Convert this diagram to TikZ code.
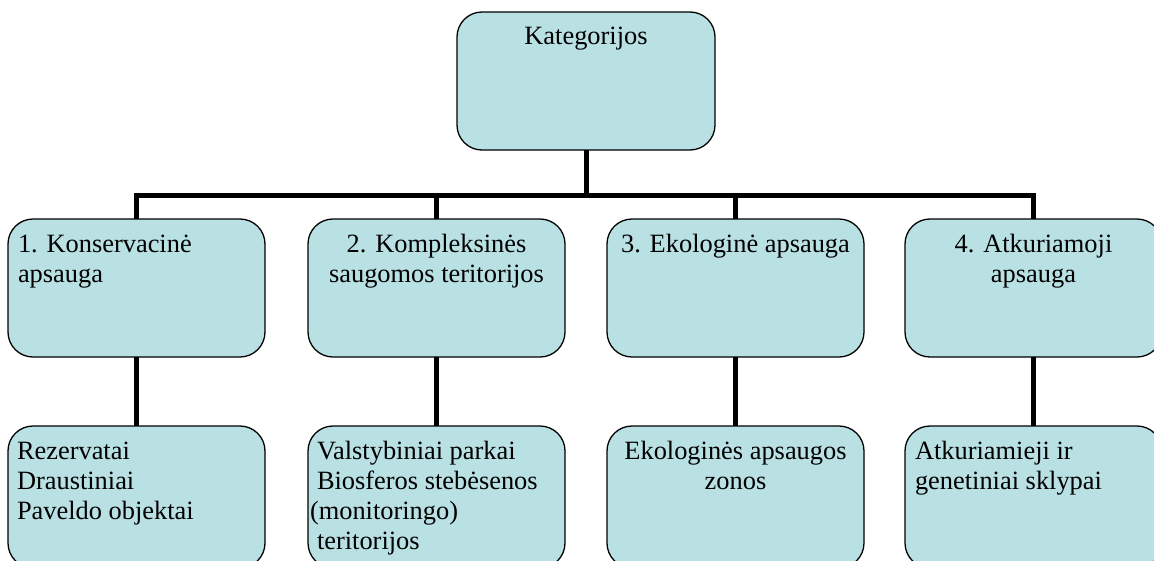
\documentclass[tikz,border=0pt]{standalone}
\usepackage{fontspec}
\setmainfont{Liberation Serif}
\definecolor{boxfill}{RGB}{185,224,227}
\begin{document}
\begin{tikzpicture}[x=1pt,y=-1pt,
  cbox/.style={draw=black,line width=1.3pt,fill=boxfill,rounded corners=25pt,
    minimum width=257pt,inner sep=0pt,outer sep=0pt},
  upbox/.style={cbox,minimum height=138pt},
  lowbox/.style={cbox,minimum height=142pt},
  txt/.style={inner sep=0pt,outer sep=0pt,font=\fontsize{26.4pt}{30pt}\selectfont},
  txtl/.style={txt,align=left,anchor=base west},
  txtc/.style={txt,align=center,anchor=base},
  conn/.style={line width=5pt,draw=black}]
\useasboundingbox (0,0) rectangle (1154,560);
\clip (0,0) rectangle (1154,560);
\fill[white] (0,0) rectangle (1154,560);

\node[upbox,minimum width=258pt] (top) at (586,81) {};
\node[upbox] (b1) at (136.5,288) {};
\node[upbox] (b2) at (436.5,288) {};
\node[upbox] (b3) at (735.5,288) {};
\node[upbox] (b4) at (1033.5,288) {};
\node[lowbox] (c1) at (136.5,497) {};
\node[lowbox] (c2) at (436.5,497) {};
\node[lowbox] (c3) at (735.5,497) {};
\node[lowbox] (c4) at (1033.5,497) {};

\coordinate (bar) at (0,195);
\draw[conn] (top.south) -- (top.south |- bar);
\draw[conn] (b1.north) -- (b1.north |- bar) -- (b4.north |- bar) -- (b4.north);
\draw[conn] (b2.north) -- (b2.north |- bar);
\draw[conn] (b3.north) -- (b3.north |- bar);
\draw[conn] (b1.south) -- (c1.north);
\draw[conn] (b2.south) -- (c2.north);
\draw[conn] (b3.south) -- (c3.north);
\draw[conn] (b4.south) -- (c4.north);

\node[txtc] (ttop) at ([yshift=-32pt]top.north) {Kategorijos};
\node[txtl] (t1) at ([xshift=10pt,yshift=-63pt]b1.north west) {1. Konservacinė\\apsauga};
\node[txtc] (t2) at ([yshift=-63pt]b2.north) {2. Kompleksinės\\saugomos teritorijos};
\node[txtc] (t3) at ([yshift=-33pt]b3.north) {3. Ekologinė apsauga};
\node[txtc] (t4) at ([yshift=-63pt]b4.north) {4. Atkuriamoji\\apsauga};

\node[txtl] (u1) at ([xshift=9pt,yshift=-93pt]c1.north west) {Rezervatai\\Draustiniai\\Paveldo objektai};
\node[txtl] (u2) at ([xshift=9pt,yshift=-123pt]c2.north west) {Valstybiniai parkai\\Biosferos stebėsenos\\\hspace*{-7pt}(monitoringo)\\teritorijos};
\node[txtc] (u3) at ([yshift=-63pt]c3.north) {Ekologinės apsaugos\\zonos};
\node[txtl] (u4) at ([xshift=10pt,yshift=-63pt]c4.north west) {Atkuriamieji ir\\genetiniai sklypai};
\end{tikzpicture}
\end{document}
